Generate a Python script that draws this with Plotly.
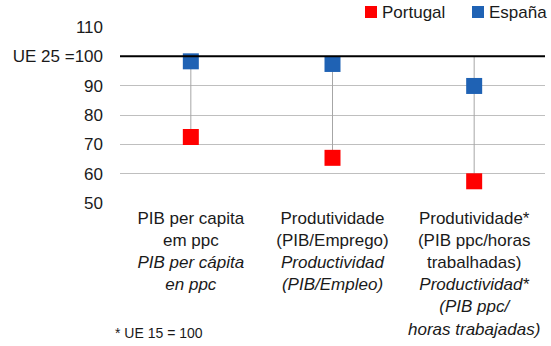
import plotly.graph_objects as go

# Indicator labels (Portuguese in plain text, Spanish in italics)
categories = [
    "PIB per capita<br>em ppc<br><i>PIB per cápita</i><br><i>en ppc</i>",
    "Produtividade<br>(PIB/Emprego)<br><i>Productividad</i><br><i>(PIB/Empleo)</i>",
    "Produtividade*<br>(PIB ppc/horas<br>trabalhadas)<br><i>Productividad*</i><br><i>(PIB ppc/</i><br><i>horas trabajadas)</i>",
]
portugal = [72.5, 65.4, 57.4]
espana = [98.3, 97.4, 89.9]
ue_ref = 100

y_ticks = [50, 60, 70, 80, 90, 100, 110]
y_tick_text = ["50", "60", "70", "80", "90", "UE 25 =100", "110"]

RED = "#FF0000"
BLUE = "#1F62B4"
FONT = "Liberation Sans, Arial, sans-serif"
TEXT = "#1a1a1a"

W, H = 551, 346
ML, MR, MT, MB = 120, 6, 27, 143
PW, PH = W - ML - MR, H - MT - MB


def px_x(px):
    """Pixel column -> paper x."""
    return (px - ML) / PW


def px_y(py):
    """Pixel row -> paper y."""
    return (H - MB - py) / PH


xpos = list(range(len(categories)))

# Drop lines from the EU reference level down to each Portugal value
line_x, line_y = [], []
for i, p in zip(xpos, portugal):
    line_x += [i, i, None]
    line_y += [ue_ref, p, None]

fig = go.Figure()
fig.add_trace(go.Scatter(
    x=line_x, y=line_y, mode="lines",
    line=dict(color="#A6A6A6", width=1),
    showlegend=False, hoverinfo="skip",
))
fig.add_trace(go.Scatter(
    x=xpos, y=portugal, mode="markers", name="Portugal",
    marker=dict(symbol="square", size=16, color=RED),
    showlegend=False,
))
fig.add_trace(go.Scatter(
    x=xpos, y=espana, mode="markers", name="España",
    marker=dict(symbol="square", size=16, color=BLUE),
    showlegend=False,
))

# EU 25 = 100 reference line
fig.add_shape(type="line", xref="paper", x0=0, x1=1, yref="y", y0=ue_ref, y1=ue_ref,
              line=dict(color="black", width=2))

# Compact legend: swatch + label
for name, col, sx in [("Portugal", RED, 365), ("España", BLUE, 472)]:
    fig.add_shape(type="rect", xref="paper", yref="paper",
                  x0=px_x(sx), x1=px_x(sx + 12), y0=px_y(18), y1=px_y(6),
                  fillcolor=col, line=dict(width=0))
    fig.add_annotation(text=name, xref="paper", yref="paper",
                       x=px_x(sx + 15), y=px_y(12), xanchor="left", yanchor="middle",
                       showarrow=False, font=dict(size=17, color=TEXT, family=FONT))

fig.add_annotation(text="* UE 15 = 100", xref="paper", yref="paper",
                   x=px_x(113), y=px_y(333), xanchor="left", yanchor="middle",
                   showarrow=False, font=dict(size=14, color=TEXT, family=FONT))

fig.update_layout(
    width=W, height=H,
    margin=dict(l=ML, r=MR, t=MT, b=MB, autoexpand=False),
    paper_bgcolor="white", plot_bgcolor="white",
    font=dict(family=FONT, color=TEXT),
    showlegend=False,
    xaxis=dict(range=[-0.5, 2.5], tickvals=xpos, ticktext=categories,
               showgrid=False, zeroline=False, showline=False,
               tickfont=dict(size=17), ticks="", tickangle=0, ticklabelstandoff=3),
    yaxis=dict(range=[50, 110], tickvals=y_ticks, ticktext=y_tick_text,
               showgrid=True, gridcolor="#BFBFBF", gridwidth=1, zeroline=False,
               showline=False, tickfont=dict(size=17), ticklabelstandoff=16),
)

fig.write_html("out.html")
